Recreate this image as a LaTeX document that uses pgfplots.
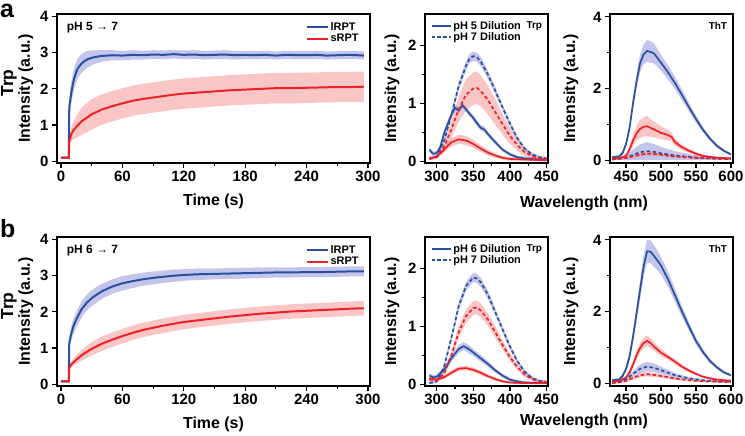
\documentclass[border=0pt]{standalone}
\usepackage{fontspec}
\setmainfont{Liberation Sans}
\usepackage{pgfplots}
\usepackage{pgfplotstable}
\pgfplotsset{compat=1.18}
\usepgfplotslibrary{fillbetween}

\definecolor{lblue}{RGB}{40,80,160}
\definecolor{lred}{RGB}{237,32,36}
\definecolor{bblue}{RGB}{140,140,215}
\definecolor{bred}{RGB}{245,140,140}

% ---------- time traces (t, mean, error) ----------
\pgfplotstableread{
x y e
0 0.10 0.02
7.5 0.10 0.02
8 1.50 0.25
9 1.70 0.30
10 1.90 0.30
12 2.20 0.30
14 2.40 0.30
16 2.55 0.28
18 2.63 0.27
20 2.70 0.26
23 2.77 0.25
26 2.82 0.23
30 2.86 0.20
35 2.89 0.18
40 2.91 0.16
45 2.92 0.15
50 2.93 0.14
60 2.92 0.13
70 2.94 0.13
80 2.93 0.12
90 2.95 0.12
100 2.94 0.12
110 2.96 0.12
120 2.94 0.12
130 2.95 0.12
140 2.93 0.12
150 2.94 0.12
160 2.95 0.12
170 2.93 0.12
180 2.94 0.11
190 2.93 0.11
200 2.94 0.11
210 2.92 0.11
220 2.94 0.11
230 2.93 0.11
240 2.93 0.11
250 2.94 0.11
260 2.92 0.11
270 2.93 0.11
280 2.94 0.11
290 2.93 0.11
296 2.92 0.11
}\aTb
\pgfplotstableread{
x y e
0 0.10 0.02
7.5 0.10 0.02
8 0.55 0.10
10 0.75 0.20
12 0.85 0.25
15 0.95 0.30
20 1.10 0.38
25 1.20 0.40
30 1.30 0.42
40 1.43 0.42
50 1.52 0.42
60 1.60 0.42
70 1.67 0.42
80 1.72 0.42
90 1.76 0.42
100 1.80 0.42
110 1.84 0.42
120 1.87 0.42
135 1.90 0.42
150 1.93 0.42
165 1.96 0.42
180 1.98 0.42
195 2.00 0.42
210 2.02 0.42
225 2.02 0.42
240 2.03 0.42
255 2.04 0.42
270 2.05 0.42
285 2.05 0.42
296 2.06 0.42
}\aTr
\pgfplotstableread{
x y e
0 0.08 0.03
7.5 0.08 0.03
8 1.15 0.15
10 1.40 0.20
12 1.60 0.22
15 1.80 0.22
20 2.07 0.22
25 2.25 0.22
30 2.38 0.22
35 2.48 0.22
40 2.57 0.21
50 2.70 0.20
60 2.79 0.20
70 2.85 0.19
80 2.90 0.18
90 2.94 0.18
100 2.97 0.17
110 3.00 0.17
120 3.02 0.16
135 3.04 0.16
150 3.05 0.15
165 3.06 0.15
180 3.07 0.15
195 3.08 0.15
210 3.09 0.14
225 3.09 0.14
240 3.10 0.14
255 3.10 0.14
270 3.11 0.14
285 3.12 0.14
296 3.12 0.14
}\bTb
\pgfplotstableread{
x y e
0 0.08 0.02
7.5 0.08 0.02
8 0.45 0.05
10 0.55 0.08
15 0.68 0.12
20 0.80 0.15
30 0.98 0.18
40 1.12 0.20
50 1.23 0.20
60 1.33 0.20
70 1.42 0.20
80 1.50 0.20
90 1.56 0.20
100 1.62 0.20
110 1.67 0.20
120 1.72 0.20
135 1.77 0.20
150 1.82 0.20
165 1.87 0.20
180 1.91 0.20
195 1.95 0.20
210 1.98 0.20
225 2.01 0.20
240 2.03 0.20
255 2.05 0.20
270 2.07 0.20
285 2.09 0.20
296 2.10 0.20
}\bTr

% ---------- Trp spectra ----------
\pgfplotstableread{
x y e
290 0.20 0.04
295 0.13 0.04
300 0.14 0.04
305 0.25 0.05
310 0.48 0.05
315 0.65 0.05
320 0.80 0.05
325 0.93 0.05
330 0.88 0.05
335 0.97 0.05
340 0.90 0.05
345 0.82 0.05
350 0.75 0.05
355 0.66 0.05
360 0.58 0.05
365 0.55 0.05
370 0.47 0.04
380 0.33 0.04
390 0.20 0.03
400 0.12 0.03
410 0.07 0.03
420 0.05 0.03
430 0.04 0.03
440 0.03 0.03
450 0.03 0.03
}\aSbs
\pgfplotstableread{
x y e
290 0.05 0.02
300 0.08 0.02
310 0.35 0.04
320 0.80 0.06
330 1.30 0.08
340 1.65 0.08
345 1.78 0.08
350 1.82 0.08
355 1.80 0.08
360 1.73 0.08
370 1.50 0.07
380 1.22 0.06
390 0.93 0.05
400 0.65 0.05
410 0.40 0.04
420 0.22 0.03
430 0.12 0.03
440 0.07 0.02
450 0.05 0.02
}\aSbd
\pgfplotstableread{
x y e
290 0.05 0.03
300 0.08 0.03
310 0.20 0.05
320 0.33 0.07
330 0.38 0.08
340 0.36 0.08
350 0.30 0.07
360 0.22 0.06
370 0.15 0.05
380 0.10 0.04
390 0.06 0.03
400 0.04 0.03
420 0.03 0.02
450 0.02 0.02
}\aSrs
\pgfplotstableread{
x y e
290 0.04 0.02
300 0.07 0.03
310 0.25 0.08
320 0.55 0.15
330 0.90 0.22
340 1.15 0.27
350 1.26 0.28
355 1.27 0.28
360 1.22 0.27
370 1.06 0.25
380 0.85 0.22
390 0.64 0.18
400 0.44 0.14
410 0.28 0.10
420 0.16 0.07
430 0.09 0.05
440 0.05 0.04
450 0.04 0.03
}\aSrd
\pgfplotstableread{
x y e
290 0.15 0.04
295 0.12 0.04
300 0.13 0.04
310 0.25 0.05
320 0.45 0.06
330 0.61 0.07
337 0.66 0.07
345 0.60 0.07
350 0.55 0.06
360 0.45 0.06
370 0.35 0.05
380 0.24 0.04
390 0.15 0.03
400 0.08 0.03
410 0.05 0.02
420 0.03 0.02
450 0.02 0.02
}\bSbs
\pgfplotstableread{
x y e
290 0.02 0.02
300 0.05 0.03
310 0.30 0.04
320 0.80 0.06
330 1.35 0.07
340 1.70 0.08
350 1.85 0.08
355 1.83 0.08
360 1.77 0.08
370 1.55 0.07
380 1.25 0.06
390 0.95 0.05
400 0.65 0.05
410 0.40 0.04
420 0.22 0.03
430 0.11 0.03
440 0.06 0.02
450 0.04 0.02
}\bSbd
\pgfplotstableread{
x y e
290 0.10 0.03
300 0.08 0.03
310 0.12 0.03
320 0.20 0.04
330 0.27 0.04
340 0.28 0.04
350 0.25 0.04
360 0.20 0.04
370 0.14 0.03
380 0.09 0.03
390 0.05 0.02
400 0.03 0.02
420 0.02 0.02
450 0.02 0.02
}\bSrs
\pgfplotstableread{
x y e
290 0.08 0.03
300 0.07 0.03
310 0.18 0.05
320 0.50 0.08
330 0.90 0.10
340 1.18 0.12
350 1.32 0.12
355 1.33 0.12
360 1.28 0.12
370 1.12 0.11
380 0.90 0.10
390 0.68 0.08
400 0.47 0.07
410 0.30 0.05
420 0.17 0.04
430 0.09 0.03
440 0.05 0.02
450 0.04 0.02
}\bSrd

% ---------- ThT spectra ----------
\pgfplotstableread{
x y e
430 0.08 0.03
440 0.10 0.04
445 0.20 0.05
450 0.45 0.08
455 0.90 0.10
460 1.60 0.15
465 2.20 0.20
470 2.70 0.25
475 2.95 0.28
480 3.05 0.30
485 3.02 0.30
490 2.98 0.28
495 2.85 0.25
500 2.72 0.22
510 2.45 0.20
520 2.15 0.17
530 1.82 0.15
540 1.48 0.12
550 1.15 0.10
560 0.85 0.08
570 0.60 0.06
580 0.40 0.05
590 0.26 0.04
600 0.16 0.03
}\aHbs
\pgfplotstableread{
x y e
430 0.05 0.02
440 0.05 0.03
450 0.12 0.05
455 0.30 0.10
460 0.55 0.15
465 0.75 0.20
470 0.87 0.25
475 0.93 0.27
480 0.95 0.28
485 0.90 0.25
490 0.86 0.22
500 0.76 0.18
510 0.70 0.15
515 0.65 0.12
520 0.50 0.10
530 0.36 0.08
540 0.26 0.06
550 0.18 0.05
560 0.12 0.04
570 0.09 0.03
580 0.07 0.03
600 0.05 0.02
}\aHrs
\pgfplotstableread{
x y e
430 0.02 0.02
450 0.06 0.05
460 0.15 0.15
470 0.22 0.22
480 0.25 0.25
490 0.23 0.22
500 0.19 0.18
520 0.13 0.12
540 0.09 0.08
560 0.06 0.05
580 0.04 0.03
600 0.03 0.02
}\aHbd
\pgfplotstableread{
x y e
430 0.02 0.02
450 0.06 0.03
470 0.15 0.05
480 0.18 0.05
490 0.17 0.05
500 0.15 0.04
520 0.10 0.03
550 0.06 0.02
600 0.03 0.02
}\aHrd
\pgfplotstableread{
x y e
430 0.08 0.03
440 0.10 0.05
445 0.20 0.06
450 0.40 0.08
455 0.75 0.12
460 1.30 0.18
465 1.95 0.22
470 2.60 0.26
475 3.25 0.30
480 3.68 0.32
485 3.67 0.32
490 3.55 0.30
495 3.42 0.28
500 3.28 0.25
510 2.90 0.22
520 2.45 0.18
530 2.00 0.15
540 1.58 0.12
550 1.18 0.10
560 0.87 0.08
570 0.62 0.06
580 0.44 0.05
590 0.30 0.04
600 0.22 0.03
}\bHbs
\pgfplotstableread{
x y e
430 0.05 0.02
440 0.06 0.03
450 0.15 0.05
455 0.30 0.08
460 0.52 0.10
465 0.78 0.12
470 0.98 0.14
475 1.12 0.15
480 1.18 0.15
485 1.12 0.14
490 1.02 0.12
500 0.85 0.10
510 0.73 0.08
520 0.60 0.07
530 0.46 0.06
540 0.35 0.05
550 0.26 0.04
560 0.18 0.03
570 0.13 0.03
580 0.10 0.02
590 0.08 0.02
600 0.07 0.02
}\bHrs
\pgfplotstableread{
x y e
430 0.02 0.02
440 0.04 0.03
450 0.10 0.05
460 0.26 0.08
470 0.40 0.12
480 0.46 0.13
490 0.43 0.12
500 0.36 0.10
510 0.29 0.08
520 0.22 0.06
540 0.13 0.04
560 0.08 0.03
580 0.05 0.02
600 0.04 0.02
}\bHbd
\pgfplotstableread{
x y e
430 0.00 0.02
440 0.02 0.02
450 0.06 0.03
460 0.15 0.05
470 0.22 0.06
480 0.25 0.06
490 0.23 0.06
500 0.20 0.05
520 0.13 0.04
540 0.08 0.03
560 0.05 0.02
600 0.03 0.02
}\bHrd

\newcommand{\band}[3]{%
  \addplot[name path=U#3, draw=none, forget plot] table[x=x, y expr=\thisrow{y}+\thisrow{e}] {#1};
  \addplot[name path=L#3, draw=none, forget plot] table[x=x, y expr=\thisrow{y}-\thisrow{e}] {#1};
  \addplot[fill=#2, fill opacity=0.5, draw=none, forget plot] fill between[of=U#3 and L#3];
}

\pgfplotsset{
  base/.style={
    scale only axis, anchor=south west,
    axis line style={line width=1.3pt},
    tick style={black, line width=1.2pt},
    tick align=outside, tick pos=left,
    major tick length=5bp, minor tick length=3bp,
    tick label style={font=\bfseries\fontsize{15}{15}\selectfont},
    /pgf/number format/assume math mode=true,
    label style={font=\bfseries\fontsize{16}{16}\selectfont},
    xlabel style={yshift=-5bp},
    legend cell align=left,
    legend style={draw=none, fill=none, font=\bfseries\fontsize{11}{11}\selectfont, row sep=-2pt},
  },
  tpanel/.style={base, width=313bp, height=149bp, xmin=-4, xmax=302, ymin=-0.05, ymax=4.07,
    xtick={0,60,...,300}, minor x tick num=1, ytick={0,1,2,3,4},
    xlabel={Time (s)}, ylabel={Intensity (a.u.)},
    ylabel style={at={(axis description cs:-0.1,0.5)}, anchor=center},
    legend style={at={(0.98,0.97)}, anchor=north east},
    legend image code/.code={\draw[##1] (0bp,0bp) -- (21bp,0bp);}},
  wpanel/.style={base, width=123bp, height=149bp, xmin=284, xmax=452, ymin=-0.03, ymax=2.55,
    xtick={300,350,400,450}, minor x tick num=1, ytick={0,1,2}, minor y tick num=1,
    ylabel={Intensity (a.u.)},
    ylabel style={at={(axis description cs:-0.268,0.5)}, anchor=center},
    legend style={at={(0.02,0.98)}, anchor=north west},
    legend image code/.code={\draw[##1] (0bp,0bp) -- (19bp,0bp);}},
  hpanel/.style={base, width=123bp, height=149bp, xmin=427, xmax=603, ymin=-0.08, ymax=4.08,
    xtick={450,500,550,600}, minor x tick num=1, ytick={0,2,4}, minor y tick num=1,
    ylabel={Intensity (a.u.)},
    ylabel style={at={(axis description cs:-0.317,0.5)}, anchor=center}},
  tl/.style={line width=2pt},
  sl/.style={line width=1.7pt},
  dl/.style={line width=1.7pt, dash pattern=on 3.5pt off 2.5pt},
}

\begin{document}
\begin{tikzpicture}

% ================= row a =================
\begin{axis}[tpanel, at={(57bp,273bp)}]
\band{\aTb}{bblue}{a}
\band{\aTr}{bred}{b}
\addplot[tl, lblue] table[x=x,y=y] {\aTb};
\addplot[tl, lred] table[x=x,y=y] {\aTr};
\legend{lRPT, sRPT}
\node[anchor=north west, font=\bfseries\fontsize{12}{12}\selectfont] at (rel axis cs:0.02,0.97) {pH 5 → 7};
\end{axis}

\begin{axis}[wpanel, at={(425bp,273bp)}]
\band{\aSrd}{bred}{a}
\band{\aSrs}{bred}{b}
\band{\aSbd}{bblue}{c}
\band{\aSbs}{bblue}{d}
\addplot[sl, lblue] table[x=x,y=y] {\aSbs};
\addplot[dl, lblue] table[x=x,y=y] {\aSbd};
\addplot[sl, lred, forget plot] table[x=x,y=y] {\aSrs};
\addplot[dl, lred, forget plot] table[x=x,y=y] {\aSrd};
\legend{pH 5 Dilution, pH 7 Dilution}
\node[anchor=north east, font=\bfseries\fontsize{10}{10}\selectfont] at (rel axis cs:0.98,0.97) {Trp};
\end{axis}

\begin{axis}[hpanel, at={(610bp,273bp)}]
\band{\aHbd}{bblue}{a}
\band{\aHrd}{bred}{b}
\band{\aHrs}{bred}{c}
\band{\aHbs}{bblue}{d}
\addplot[sl, lblue] table[x=x,y=y] {\aHbs};
\addplot[sl, lred] table[x=x,y=y] {\aHrs};
\addplot[dl, lblue] table[x=x,y=y] {\aHbd};
\addplot[dl, lred] table[x=x,y=y] {\aHrd};
\node[anchor=north east, font=\bfseries\fontsize{10}{10}\selectfont] at (rel axis cs:0.98,0.97) {ThT};
\end{axis}

% ================= row b =================
\begin{axis}[tpanel, at={(57bp,50bp)}]
\band{\bTb}{bblue}{a}
\band{\bTr}{bred}{b}
\addplot[tl, lblue] table[x=x,y=y] {\bTb};
\addplot[tl, lred] table[x=x,y=y] {\bTr};
\legend{lRPT, sRPT}
\node[anchor=north west, font=\bfseries\fontsize{12}{12}\selectfont] at (rel axis cs:0.02,0.97) {pH 6 → 7};
\end{axis}

\begin{axis}[wpanel, at={(425bp,50bp)}]
\band{\bSrd}{bred}{a}
\band{\bSrs}{bred}{b}
\band{\bSbd}{bblue}{c}
\band{\bSbs}{bblue}{d}
\addplot[sl, lblue] table[x=x,y=y] {\bSbs};
\addplot[dl, lblue] table[x=x,y=y] {\bSbd};
\addplot[sl, lred, forget plot] table[x=x,y=y] {\bSrs};
\addplot[dl, lred, forget plot] table[x=x,y=y] {\bSrd};
\legend{pH 6 Dilution, pH 7 Dilution}
\node[anchor=north east, font=\bfseries\fontsize{10}{10}\selectfont] at (rel axis cs:0.98,0.97) {Trp};
\end{axis}

\begin{axis}[hpanel, at={(610bp,50bp)}]
\band{\bHbd}{bblue}{a}
\band{\bHrd}{bred}{b}
\band{\bHrs}{bred}{c}
\band{\bHbs}{bblue}{d}
\addplot[sl, lblue] table[x=x,y=y] {\bHbs};
\addplot[sl, lred] table[x=x,y=y] {\bHrs};
\addplot[dl, lblue] table[x=x,y=y] {\bHbd};
\addplot[dl, lred] table[x=x,y=y] {\bHrd};
\node[anchor=north east, font=\bfseries\fontsize{10}{10}\selectfont] at (rel axis cs:0.98,0.97) {ThT};
\end{axis}

% ---------- free labels ----------
\node[anchor=base west, inner sep=0pt, font=\bfseries\fontsize{25}{25}\selectfont] at (0bp,418bp) {a};
\node[anchor=base west, inner sep=0pt, font=\bfseries\fontsize{25}{25}\selectfont] at (0bp,198bp) {b};
\node[rotate=90, font=\bfseries\fontsize{17.5}{17.5}\selectfont] at (9bp,353bp) {Trp};
\node[rotate=90, font=\bfseries\fontsize{17.5}{17.5}\selectfont] at (9bp,130bp) {Trp};
\node[font=\bfseries\fontsize{16}{16}\selectfont] at (584bp,233bp) {Wavelength (nm)};
\node[font=\bfseries\fontsize{16}{16}\selectfont] at (584bp,15bp) {Wavelength (nm)};

\pgfresetboundingbox
\path[use as bounding box] (0,0) rectangle (745bp,436bp);
\end{tikzpicture}
\end{document}
